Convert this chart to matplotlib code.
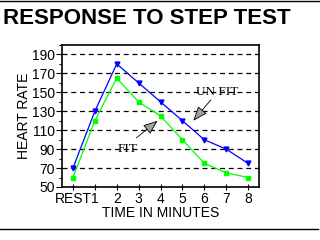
import matplotlib
matplotlib.use('Agg')
import matplotlib.pyplot as plt
from matplotlib.lines import Line2D
from matplotlib.ticker import MultipleLocator

plt.rcParams['font.family'] = ['Liberation Sans', 'DejaVu Sans']

categories = ['REST', '1', '2', '3', '4', '5', '6', '7', '8']
unfit = [70, 130, 180, 160, 140, 120, 100, 90, 75]
fit = [60, 120, 165, 140, 125, 100, 75, 65, 60]
yticks = [50, 70, 90, 110, 130, 150, 170, 190]

fig = plt.figure(figsize=(3.2, 2.4), dpi=100)
ax = fig.add_axes([62 / 320, 1 - 187 / 240, (259 - 62) / 320, (187 - 45) / 240])

x = list(range(len(categories)))
ax.plot(x, unfit, color='#0000ff', lw=0.9, marker='v', ms=3.5, zorder=3)
ax.plot(x, fit, color='#00ff00', lw=0.9, marker='s', ms=3, zorder=3)

ax.set_xlim(-0.5, 8.5)
ax.set_ylim(50, 200)
ax.set_xticks(x)
ax.set_xticklabels(categories, fontsize=10)
ax.set_yticks(yticks)
ax.set_yticklabels([str(v) for v in yticks], fontsize=10)
ax.yaxis.set_minor_locator(MultipleLocator(10))
ax.tick_params(axis='x', direction='inout', length=5, width=0.8, pad=1)
ax.tick_params(axis='y', which='major', direction='out', length=4, width=0.8, pad=1)
ax.tick_params(axis='y', which='minor', direction='out', length=2, width=0.8)
ax.grid(axis='y', color='black', ls=(0, (4, 3)), lw=0.9)
ax.grid(axis='x', visible=False)
for s in ax.spines.values():
    s.set_linewidth(1.2)

ax.set_xlabel('TIME IN MINUTES', fontsize=10, labelpad=0)
ax.set_ylabel('HEART RATE', fontsize=10, labelpad=1)

arrow = dict(arrowstyle='-|>,head_length=0.9,head_width=0.35', color='black',
             lw=0.6, shrinkA=0, shrinkB=0)
ax.annotate('', xy=(3.87, 120), xytext=(2.9, 102),
            arrowprops=dict(arrow, fc='#a0a0a0', ec='black'))
ax.annotate('', xy=(5.5, 120), xytext=(6.3, 142),
            arrowprops=dict(arrow, fc='#a0a0a0', ec='black'))
ax.text(2.5, 90, 'FIT', family='Liberation Serif', fontsize=9.5,
        ha='center', va='center', zorder=4)
ax.text(6.6, 150, 'UN FIT', family='Liberation Serif', fontsize=9.5,
        ha='center', va='center', zorder=4)

fig.text(3 / 320, 1 - 19 / 240, 'RESPONSE TO STEP TEST', fontsize=16,
         fontweight='bold', ha='left', va='center')
fig.add_artist(Line2D([0, 1], [1 - 1 / 240, 1 - 1 / 240], color='black', lw=1))
fig.add_artist(Line2D([0, 318 / 320], [1 - 229 / 240, 1 - 229 / 240], color='black', lw=1))

fig.savefig('out.png', dpi=100)
